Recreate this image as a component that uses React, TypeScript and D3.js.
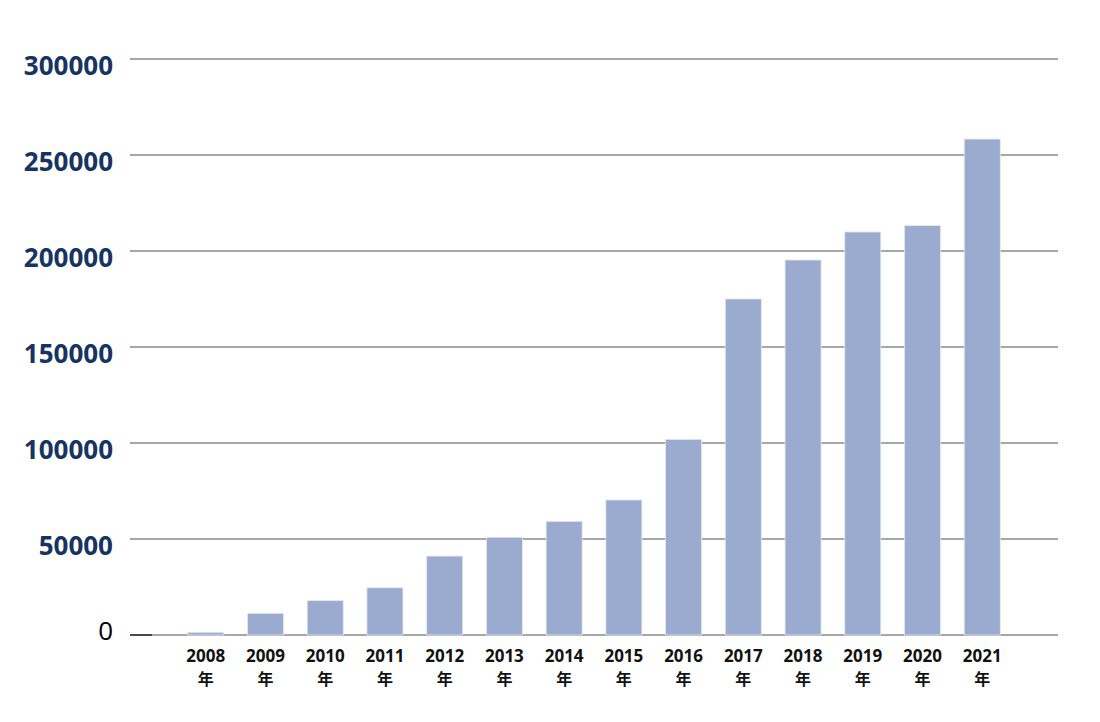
import React from "react";
import * as d3 from "d3";

const years = ["2008", "2009", "2010", "2011", "2012", "2013", "2014", "2015", "2016", "2017", "2018", "2019", "2020", "2021"];
const values = [1400, 11300, 17900, 24600, 41100, 50900, 59200, 70300, 101900, 175000, 195300, 209900, 213200, 258300];
const yTicks = [0, 50000, 100000, 150000, 200000, 250000, 300000];
const yearSuffix = "年";

const W = 1100;
const H = 722;
const left = 130;
const right = 1058;
const top = 59;
const bottom = 635;

export default function App() {
  const x = d3.scaleBand<string>().domain(years).range([left, right]).paddingInner(0.397).paddingOuter(0.967);
  const y = d3.scaleLinear().domain([0, 300000]).range([bottom, top]);
  return (
    <svg width={W} height={H} style={{ position: "absolute", left: 0, top: 0, background: "#fff" }}>
      {yTicks.map((t) => (
        <line key={"g" + t} x1={left} x2={right} y1={y(t)} y2={y(t)} stroke="#8a8a8a" strokeWidth={1.4} />
      ))}
      <line x1={left} x2={152} y1={y(0)} y2={y(0)} stroke="#222" strokeWidth={1.4} />
      {years.map((yr, i) => (
        <rect
          key={yr}
          x={x(yr)}
          y={y(values[i])}
          width={x.bandwidth()}
          height={y(0) - y(values[i])}
          fill="#9baacf"
          stroke="#e3e8f3"
          strokeWidth={0.8}
        />
      ))}
      {yTicks.map((t) =>
        t === 0 ? (
          <text key={"l" + t} x={113} y={y(t) + 5} textAnchor="end" fontFamily="'Open Sans', sans-serif" fontSize={26} fill="#000">
            0
          </text>
        ) : (
          <text key={"l" + t} x={113} y={y(t) + 16} textAnchor="end" fontFamily="'Open Sans', sans-serif" fontWeight="bold" fontSize={26} fill="#163461">
            {t}
          </text>
        )
      )}
      {years.map((yr) => {
        const cx = (x(yr) as number) + x.bandwidth() / 2;
        return (
          <g key={"x" + yr}>
            <text x={cx} y={662} textAnchor="middle" fontFamily="'Open Sans', sans-serif" fontWeight="bold" fontSize={17} fill="#111">
              {yr}
            </text>
            <text x={cx} y={685} textAnchor="middle" fontFamily="'Noto Sans CJK JP', sans-serif" fontWeight="bold" fontSize={16} fill="#111">
              {yearSuffix}
            </text>
          </g>
        );
      })}
    </svg>
  );
}
